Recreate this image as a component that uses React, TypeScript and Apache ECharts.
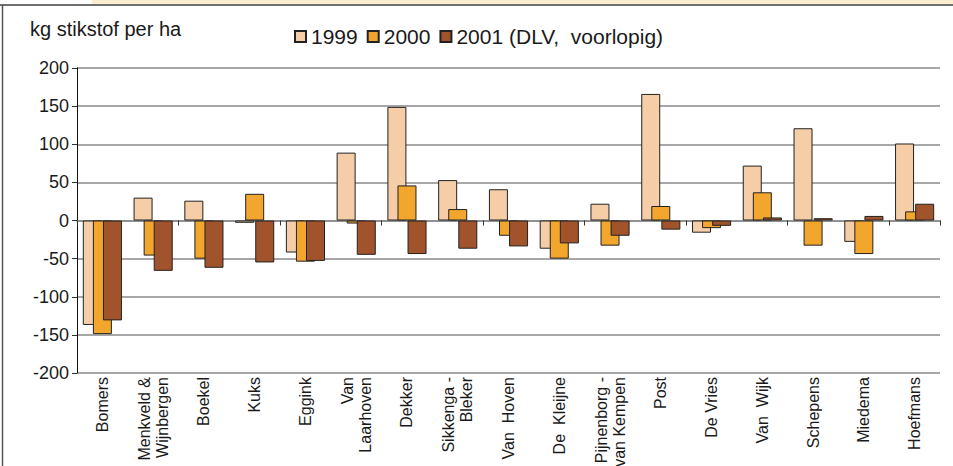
import React, { useEffect, useRef } from "react";
import * as echarts from "echarts";

const categories = [
  "Bomers",
  "Menkveld &\nWijnbergen",
  "Boekel",
  "Kuks",
  "Eggink",
  "Van\nLaarhoven",
  "Dekker",
  "Sikkenga -\nBleker",
  "Van  Hoven",
  "De  Kleijne",
  "Pijnenborg -\nvan Kempen",
  "Post",
  "De Vries",
  "Van  Wijk",
  "Schepens",
  "Miedema",
  "Hoefmans",
];

const seriesNames = ["1999", "2000", "2001 (DLV,  voorlopig)"];
const values1999 = [-137, 30, 26, -3, -42, 89, 149, 53, 41, -37, 22, 166, -16, 72, 121, -28, 101];
const values2000 = [-149, -46, -50, 35, -54, -4, 46, 15, -20, -50, -33, 19, -10, 37, -33, -44, 12];
const values2001 = [-131, -66, -62, -55, -53, -45, -44, -37, -34, -30, -20, -12, -7, 4, 3, 6, 22];
const seriesColors = ["#f5cea8", "#f2a62e", "#a1532c"];

const yMin = -200;
const yMax = 200;
const yInterval = 50;
const titleText = "kg stikstof per ha";

const FONT = "'Liberation Sans', Arial, Helvetica, sans-serif";
const TEXT = "#1a1a1a";
const GRID = "#8a8a8a";

export default function App() {
  const ref = useRef<HTMLDivElement>(null);

  useEffect(() => {
    if (!ref.current) return;
    const chart = echarts.init(ref.current, undefined, { renderer: "svg" });
    const allValues = [values1999, values2000, values2001];
    const option: any = {
      animation: false,
      backgroundColor: "#ffffff",
      textStyle: { fontFamily: FONT, color: TEXT },
      title: {
        text: titleText,
        left: 25,
        top: 14,
        textStyle: { fontFamily: FONT, fontSize: 20, fontWeight: "normal", color: TEXT },
      },
      legend: {
        left: 294,
        top: 26,
        padding: 0,
        itemWidth: 11,
        itemHeight: 11,
        itemGap: 9,
        icon: "rect",
        textStyle: { fontFamily: FONT, fontSize: 21, color: TEXT },
        data: seriesNames,
      },
      grid: { left: 77, right: 13, top: 68, bottom: 93, containLabel: false, outerBoundsMode: "none" },
      xAxis: [
        {
          type: "category",
          data: categories,
          position: "bottom",
          axisLine: { show: false, onZero: false },
          axisTick: { show: false },
          axisLabel: {
            interval: 0,
            rotate: 90,
            margin: 4,
            fontSize: 16,
            lineHeight: 18,
            fontFamily: FONT,
            color: TEXT,
          },
          splitLine: { show: false },
        },
        {
          type: "category",
          data: categories,
          position: "bottom",
          axisLine: { show: true, onZero: true, lineStyle: { color: GRID, width: 1.5 } },
          axisTick: { show: true, length: 5, lineStyle: { color: "#333", width: 1 } },
          axisLabel: { show: false },
          splitLine: { show: false },
        },
      ],
      yAxis: {
        type: "value",
        min: yMin,
        max: yMax,
        interval: yInterval,
        axisLine: { show: true, lineStyle: { color: "#111", width: 1 } },
        axisTick: { show: true, length: 5, lineStyle: { color: "#333" } },
        axisLabel: { fontSize: 18, margin: 8, fontFamily: FONT, color: TEXT },
        splitLine: { show: true, lineStyle: { color: GRID, width: 1.6 } },
      },
      graphic: [
        { type: "rect", shape: { x: 92, y: 0, width: 861, height: 4 }, style: { fill: "#fbedcf" }, silent: true },
        { type: "line", shape: { x1: 0, y1: 5, x2: 953, y2: 5 }, style: { stroke: "#6f6f6f", lineWidth: 2 }, silent: true },
        { type: "line", shape: { x1: 2.5, y1: 5, x2: 2.5, y2: 466 }, style: { stroke: "#555", lineWidth: 1.5 }, silent: true },
      ],
      series: seriesNames.map((name, i) => ({
        name,
        type: "bar",
        xAxisIndex: 0,
        data: allValues[i],
        barWidth: 19,
        barGap: "-47%",
        itemStyle: { color: seriesColors[i], borderColor: "#222", borderWidth: 1 },
      })),
    };
    chart.setOption(option);
    return () => chart.dispose();
  }, []);

  return (
    <div
      ref={ref}
      style={{ position: "fixed", left: 0, top: 0, width: 953, height: 466 }}
    />
  );
}
